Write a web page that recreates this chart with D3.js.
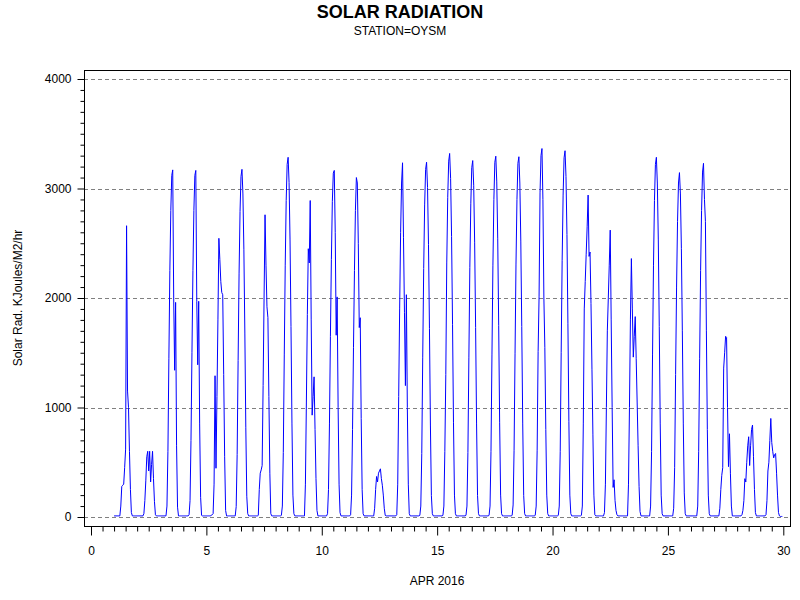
<!DOCTYPE html>
<html><head><meta charset="utf-8">
<script src="https://cdn.jsdelivr.net/npm/d3@7"></script>
<style>
body{margin:0;background:#fff}
text{font-family:"Liberation Sans",Arial,Helvetica,sans-serif;fill:#000}
</style>
</head><body>
<svg id="chart" width="800" height="600"></svg>
<script>
const titleText = "SOLAR RADIATION";
const subtitleText = "STATION=OYSM";
const xLabelText = "APR 2016";
const yLabelText = "Solar Rad. KJoules/M2/hr";
const xTickValues = [0, 5, 10, 15, 20, 25, 30];
const yTickValues = [0, 1000, 2000, 3000, 4000];
const daysOfMonth = [1,2,3,4,5,6,7,8,9,10,11,12,13,14,15,16,17,18,19,20,21,22,23,24,25,26,27,28,29];

// hourly readings, hours 0..23 of each day
const apr01 = [10,10,10,10,10,10, 10,100,280,290,300,450, 620,2660,1150,1000,600,250, 40,10,10,10,10,10];
const apr02 = [10,10,10,10,10,10, 10,30,150,330,550,600, 420,600,320,480,600,350, 140,20,10,10,10,10];
const apr03 = [10,10,10,10,10,10, 10,100,600,1450,2250,2800, 3120,3170,2000,1340,1960,650, 90,10,10,10,10,10];
const apr04 = [10,10,10,10,10,10, 20,150,700,1500,2250,2800, 3120,3165,1970,1390,1970,850, 180,15,10,10,10,10];
const apr05 = [10,10,10,10,10,15, 20,30,300,1290,445,1100, 1800,2545,2350,2150,2050,2030, 1300,550,60,10,10,10];
const apr06 = [10,10,10,10,10,10, 10,95,570,1430,2220,2790, 3110,3175,2950,2440,1680,820, 190,30,10,10,10,10];
const apr07 = [10,10,10,10,10,10, 15,250,400,430,470,1200, 2000,2760,2300,1920,1820,1100, 400,30,10,10,10,10];
const apr08 = [10,10,10,10,10,10, 15,100,590,1480,2300,2890, 3220,3285,3055,2530,1740,850, 200,30,10,10,10,10];
const apr09 = [10,10,10,10,10,10, 10,300,1050,1850,2450,2320, 2890,1800,930,1100,1280,800, 350,60,10,10,10,10];
const apr10 = [10,10,10,10,10,10, 30,250,850,1650,2350,2880, 3140,3165,2600,1660,2010,1000, 300,40,10,10,10,10];
const apr11 = [10,10,10,10,10,10, 20,200,800,1550,2250,2800, 3100,3050,2500,1730,1820,900, 250,30,10,10,10,10];
const apr12 = [10,10,10,10,10,10, 10,80,250,370,320,400, 420,440,350,290,200,80, 15,10,10,10,10,10];
const apr13 = [10,10,10,10,10,10, 20,300,1100,1900,2600,3050, 3235,2550,1870,1200,2030,1000, 300,30,10,10,10,10];
const apr14 = [10,10,10,10,10,10, 15,100,580,1460,2270,2850, 3175,3240,3010,2490,1720,840, 195,30,10,10,10,10];
const apr15 = [10,10,10,10,10,10, 15,100,600,1300,2320,2920, 3250,3320,3090,2560,1760,860, 200,30,10,10,10,10];
const apr16 = [10,10,10,10,10,10, 15,100,590,1460,2280,2860, 3190,3255,3030,2510,1730,850, 195,30,10,10,10,10];
const apr17 = [10,10,10,10,10,10, 15,100,600,1480,2300,2900, 3240,3295,3060,2540,1750,860, 200,30,10,10,10,10];
const apr18 = [10,10,10,10,10,10, 15,110,610,1490,2310,2900, 3230,3290,3050,2520,1740,850, 195,30,10,10,10,10];
const apr19 = [10,10,10,10,10,10, 15,100,610,1510,2010,2960, 3300,3365,2900,2000,1550,800, 200,30,10,10,10,10];
const apr20 = [10,10,10,10,10,10, 15,100,600,1500,2340,2940, 3280,3345,3110,2580,1770,870, 200,30,10,10,10,10];
const apr21 = [10,10,10,10,10,10, 15,100,850,1900,2150,2400, 2650,2940,2380,2420,1950,1350, 750,200,20,10,10,10];
const apr22 = [10,10,10,10,10,10, 40,300,1000,1700,2000,2300, 2620,1800,1000,270,340,150, 60,20,10,10,10,10];
const apr23 = [10,10,10,10,10,10, 10,300,1000,1800,2360,1900, 1460,1650,1830,1450,1050,650, 280,50,10,10,10,10];
const apr24 = [10,10,10,10,10,10, 100,600,1480,2300,2890,3220, 3285,3050,2530,1740,850,200, 30,10,10,10,10,10];
const apr25 = [10,10,10,10,10,10, 80,450,1300,2100,2700,3050, 3145,2950,2450,1700,850,220, 30,10,10,10,10,10];
const apr26 = [10,10,10,10,10,10, 10,100,600,1450,2250,2800, 3150,3230,2900,2700,1700,800, 200,30,10,10,10,10];
const apr27 = [10,10,10,10,10,10, 80,250,380,450,1360,1500, 1650,1640,1000,460,760,400, 100,10,10,10,10,10];
const apr28 = [10,10,10,10,10,20, 60,150,350,320,500,650, 733,470,650,800,840,550, 250,40,10,10,10,10];
const apr29 = [10,10,10,10,10,10, 20,150,420,500,700,900, 680,600,540,570,580,400, 200,40,10,5,5,5];

const hourlyByDay = [apr01,apr02,apr03,apr04,apr05,apr06,apr07,apr08,apr09,apr10,apr11,apr12,apr13,apr14,apr15,
  apr16,apr17,apr18,apr19,apr20,apr21,apr22,apr23,apr24,apr25,apr26,apr27,apr28,apr29];

const series = [];
daysOfMonth.forEach((d, i) => {
  hourlyByDay[i].forEach((v, h) => series.push({t: d + h / 24, v: v}));
});

const svg = d3.select("#chart");
const frame = {left: 84, right: 790, top: 70, bottom: 526};

const x = d3.scaleLinear().domain([0, 30]).range([91, 783.3]);
const y = d3.scaleLinear().domain([0, 4000]).range([517, 79]);

// gridlines
svg.append("g").selectAll("line").data(yTickValues).join("line")
  .attr("x1", frame.left).attr("x2", frame.right)
  .attr("y1", d => Math.round(y(d)) + 0.5).attr("y2", d => Math.round(y(d)) + 0.5)
  .attr("stroke", "#808080").attr("stroke-width", 1).attr("stroke-dasharray", "4,3");

// data line
const line = d3.line().x(d => x(d.t)).y(d => y(d.v));
svg.append("path").datum(series)
  .attr("d", line).attr("fill", "none").attr("stroke", "#0000ff").attr("stroke-width", 1);

// frame
svg.append("rect")
  .attr("x", frame.left + 0.5).attr("y", frame.top + 0.5)
  .attr("width", frame.right - frame.left).attr("height", frame.bottom - frame.top)
  .attr("fill", "none").attr("stroke", "#000").attr("stroke-width", 1);

// y axis
const yMinor = d3.range(0, 4001, 100).filter(v => v % 1000 !== 0);
const yAxisG = svg.append("g").attr("transform", `translate(${frame.left + 0.5},0)`);
yAxisG.call(d3.axisLeft(y).tickValues(yTickValues).tickSize(7).tickPadding(6).tickFormat(d3.format("d")));
const yMinorG = svg.append("g").attr("transform", `translate(${frame.left + 0.5},0)`);
yMinorG.call(d3.axisLeft(y).tickValues(yMinor).tickSize(4).tickFormat(""));

// x axis
const xMinor = d3.range(0, 30.01, 0.5).filter(v => v % 5 !== 0);
const xAxisG = svg.append("g").attr("transform", `translate(0,${frame.bottom + 0.5})`);
xAxisG.call(d3.axisBottom(x).tickValues(xTickValues).tickSize(9).tickPadding(10.5).tickFormat(d3.format("d")));
const xMinorG = svg.append("g").attr("transform", `translate(0,${frame.bottom + 0.5})`);
xMinorG.call(d3.axisBottom(x).tickValues(xMinor).tickSize(5).tickFormat(""));

[yAxisG, yMinorG, xAxisG, xMinorG].forEach(g => {
  g.select(".domain").remove();
  g.selectAll("line").attr("stroke", "#000");
  g.selectAll("text").attr("font-size", 12).attr("font-family", null).style("fill", "#000");
});

// titles
svg.append("text").attr("x", 400).attr("y", 17.5).attr("text-anchor", "middle")
  .attr("font-size", 18).attr("font-weight", "bold").text(titleText);
svg.append("text").attr("x", 400).attr("y", 34.5).attr("text-anchor", "middle")
  .attr("font-size", 12).text(subtitleText);
svg.append("text").attr("x", (frame.left + frame.right) / 2).attr("y", 585).attr("text-anchor", "middle")
  .attr("font-size", 12).text(xLabelText);
svg.append("text").attr("transform", `translate(22,${(frame.top + frame.bottom) / 2}) rotate(-90)`)
  .attr("text-anchor", "middle").attr("font-size", 12).text(yLabelText);
</script>
</body></html>
